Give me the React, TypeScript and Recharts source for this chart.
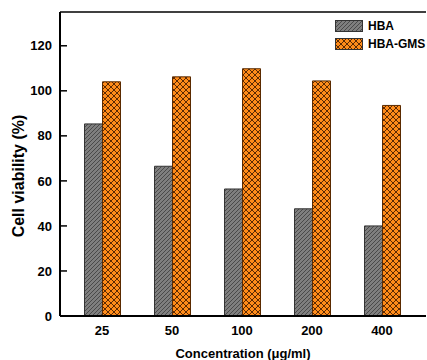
import { BarChart, Bar, XAxis, YAxis, ReferenceLine, Legend } from 'recharts'

// cell viability per concentration
const concentrations = ['25', '50', '100', '200', '400']
const hbaValues = [85.3, 66.5, 56.4, 47.6, 40.0]
const gmsValues = [104.0, 106.2, 109.8, 104.4, 93.5]
const yTicks = [0, 20, 40, 60, 80, 100, 120]
const seriesNames = { hba: 'HBA', gms: 'HBA-GMS' }

const data = concentrations.map((c, i) => ({ conc: c, hba: hbaValues[i], gms: gmsValues[i] }))

const FONT = '"Liberation Sans", Arial, sans-serif'
const ORANGE = '#FF8C1A'
const GRAY = '#7f7f7f'

function Swatch({ fill }: { fill: string }) {
  return (
    <svg width={28} height={12} style={{ display: 'block' }}>
      <rect x={0.5} y={0.5} width={27} height={11} fill={fill} stroke="#333" strokeWidth={1} />
    </svg>
  )
}

function LegendBox() {
  const rows = [
    { name: seriesNames.hba, fill: 'url(#hbaHatch)' },
    { name: seriesNames.gms, fill: 'url(#gmsCross)' },
  ]
  return (
    <div style={{ fontFamily: FONT, fontWeight: 'bold', fontSize: 12, color: '#000' }}>
      {rows.map((r) => (
        <div key={r.name} style={{ display: 'flex', alignItems: 'center', height: 18 }}>
          <Swatch fill={r.fill} />
          <span style={{ marginLeft: 5 }}>{r.name}</span>
        </div>
      ))}
    </div>
  )
}

export default function App() {
  return (
    <div style={{ position: 'absolute', left: 0, top: 0, width: 427, height: 360, overflow: 'hidden', background: '#fff' }}>
      <BarChart
        width={440}
        height={360}
        data={data}
        margin={{ top: 12, right: 14, left: 0, bottom: 14 }}
        barCategoryGap="25%"
        barGap={0}
      >
        <defs>
          <pattern id="hbaHatch" patternUnits="userSpaceOnUse" width={4} height={4}>
            <rect width={4} height={4} fill={GRAY} />
            <path d="M-1,1 l2,-2 M0,4 l4,-4 M3,5 l2,-2" stroke="#3c3c3c" strokeWidth={0.8} />
          </pattern>
          <pattern id="gmsCross" patternUnits="userSpaceOnUse" width={6} height={6}>
            <rect width={6} height={6} fill={ORANGE} />
            <path d="M0,0 L6,6 M6,0 L0,6" stroke="#4a1f00" strokeWidth={0.9} />
          </pattern>
        </defs>
        <XAxis
          dataKey="conc"
          height={30}
          padding={{ left: 7, right: 9 }}
          tickLine={false}
          tickSize={0}
          tickMargin={10}
          axisLine={{ stroke: '#000', strokeWidth: 2 }}
          tick={{ fill: '#000', fontSize: 13, fontWeight: 'bold', fontFamily: FONT }}
          label={{
            content: ({ viewBox }: any) => (
              <text
                x={viewBox.x + viewBox.width / 2}
                y={viewBox.y + viewBox.height + 12}
                textAnchor="middle"
                fontFamily={FONT}
                fontWeight="bold"
                fontSize={13}
                fill="#000"
              >
                Concentration (μg/ml)
              </text>
            ),
          }}
        />
        <YAxis
          width={60}
          domain={[0, 135]}
          ticks={yTicks}
          allowDataOverflow
          tickSize={-7}
          tickMargin={15}
          tickLine={{ stroke: '#000', strokeWidth: 1.5 }}
          axisLine={{ stroke: '#000', strokeWidth: 2 }}
          tick={{ fill: '#000', fontSize: 13, fontWeight: 'bold', fontFamily: FONT }}
          label={{
            content: ({ viewBox }: any) => {
              const cx = 18
              const cy = viewBox.y + viewBox.height / 2 + 12
              return (
                <text
                  x={cx}
                  y={cy}
                  transform={`rotate(-90, ${cx}, ${cy})`}
                  textAnchor="middle"
                  dominantBaseline="central"
                  fontFamily={FONT}
                  fontWeight="bold"
                  fontSize={16}
                  fill="#000"
                >
                  Cell viability (%)
                </text>
              )
            },
          }}
        />
        <YAxis
          yAxisId="frame"
          orientation="right"
          width={0}
          domain={[0, 135]}
          tick={false}
          tickLine={false}
          axisLine={{ stroke: '#d8d8d8', strokeWidth: 1 }}
        />
        <ReferenceLine y={135} stroke="#000" strokeWidth={1.5} />
        <Legend
          layout="horizontal"
          verticalAlign="middle"
          align="center"
          content={() => <LegendBox />}
          wrapperStyle={{ position: 'absolute', left: 335, top: 17, width: 'auto' }}
        />
        <Bar dataKey="hba" name={seriesNames.hba} fill="url(#hbaHatch)" stroke="#333" strokeWidth={1} isAnimationActive={false} />
        <Bar dataKey="gms" name={seriesNames.gms} fill="url(#gmsCross)" stroke="#5a2a00" strokeWidth={1} isAnimationActive={false} />
      </BarChart>
    </div>
  )
}
